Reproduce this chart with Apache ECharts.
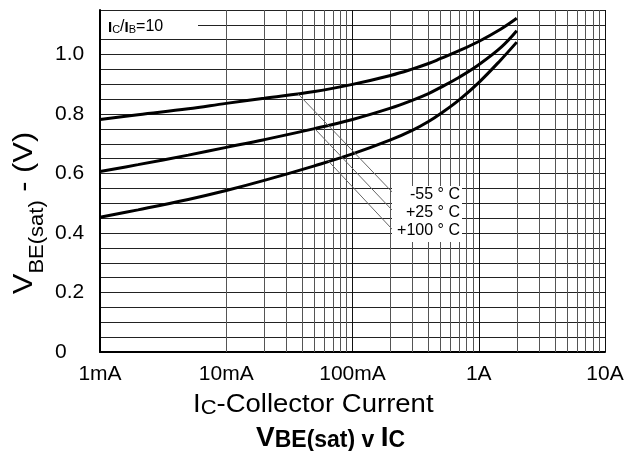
<!DOCTYPE html>
<html>
<head>
<meta charset="utf-8">
<title>VBE(sat) v IC</title>
<script src="https://cdn.jsdelivr.net/npm/echarts@6/dist/echarts.min.js"></script>
<style>
  html, body { margin: 0; padding: 0; background: #fff; }
  #chart { width: 629px; height: 451px; }
</style>
</head>
<body>
<div id="chart"></div>
<script>
    // collector current (A) and VBE(sat) (V)
    var current = [0.001, 0.002, 0.005, 0.01, 0.02, 0.05, 0.1, 0.2, 0.3, 0.4, 0.5, 0.7, 1, 1.5, 2];
    var vMinus55 = [0.782, 0.798, 0.818, 0.836, 0.853, 0.876, 0.900, 0.930, 0.952, 0.970, 0.987, 1.013, 1.044, 1.086, 1.122];
    var vPlus25 = [0.607, 0.630, 0.662, 0.688, 0.714, 0.751, 0.782, 0.820, 0.847, 0.869, 0.890, 0.924, 0.966, 1.024, 1.080];
    var vPlus100 = [0.453, 0.478, 0.513, 0.543, 0.577, 0.626, 0.666, 0.713, 0.746, 0.775, 0.802, 0.848, 0.906, 0.983, 1.042];

    var xTickLabels = ['1mA', '10mA', '100mA', '1A', '10A'];
    var yLabelStep = 0.2;
    var decades = [0.001, 0.01, 0.1, 1];
    var tempLabels = ['-55 ° C', '+25 ° C', '+100 ° C'];

    // leader lines from each curve down to its label
    var leaderFrom = [[0.037, 0.868], [0.0504, 0.75], [0.0638, 0.644]];
    var leaderTo = [[0.217, 0.528], [0.217, 0.467], [0.209, 0.41]];

    var font = '"Liberation Sans", Arial, sans-serif';

    // 2..9 lines inside every decade
    var minorTicks = [];
    decades.forEach(function (d) {
        for (var k = 2; k <= 9; k++) minorTicks.push(d * k);
    });

    function pairs(ys) {
        return current.map(function (c, i) { return [c, ys[i]]; });
    }

    function curve(name, ys) {
        return {
            type: 'line',
            name: name,
            data: pairs(ys),
            smooth: 0.4,
            showSymbol: false,
            z: 3,
            lineStyle: { color: '#000', width: 3 }
        };
    }

    var chart = echarts.init(document.getElementById('chart'));

    chart.setOption({
        animation: false,
        grid: { left: 100, right: 24, top: 10, bottom: 99 },
        xAxis: {
            type: 'log',
            logBase: 10,
            min: 0.001,
            max: 10,
            axisLine: { show: true, onZero: false, lineStyle: { color: '#000', width: 2 } },
            axisTick: { show: false },
            splitLine: { show: true, lineStyle: { color: '#111', width: 1 } },
            axisLabel: {
                color: '#000',
                fontSize: 21,
                fontFamily: font,
                margin: 12,
                formatter: function (v) {
                    return xTickLabels[Math.round(Math.log10(v)) + 3];
                }
            }
        },
        yAxis: {
            type: 'value',
            min: 0,
            max: 1.15,
            interval: 0.05,
            axisLine: { show: true, lineStyle: { color: '#000', width: 2 } },
            axisTick: { show: false },
            splitLine: { show: true, lineStyle: { color: '#222', width: 1 } },
            axisLabel: {
                color: '#000',
                fontSize: 21,
                fontFamily: font,
                align: 'left',
                margin: 45,
                formatter: function (v) {
                    var r = v / yLabelStep;
                    if (Math.abs(r - Math.round(r)) > 1e-6) return '';
                    return v === 0 ? '0' : v.toFixed(1);
                }
            }
        },
        graphic: [
            // Ic/Ib box top-left
            { type: 'rect', shape: { x: 101, y: 11, width: 97, height: 28 }, style: { fill: '#fff' }, z: 10 },
            {
                type: 'text', x: 108, y: 27, z: 11,
                style: {
                    text: '{i|I}{s|C}{n|/}{i|I}{s|B}{n|=10}',
                    verticalAlign: 'middle',
                    rich: {
                        i: { fontSize: 15, fontWeight: 'bold', fontFamily: font, fill: '#000', verticalAlign: 'bottom' },
                        s: { fontSize: 11, fontFamily: font, fill: '#000', verticalAlign: 'bottom' },
                        n: { fontSize: 16, fontFamily: font, fill: '#000', verticalAlign: 'bottom' }
                    }
                }
            },
            // temperature labels
            { type: 'rect', shape: { x: 392, y: 186, width: 70, height: 56 }, style: { fill: '#fff' }, z: 10 },
            { type: 'text', x: 460, y: 195, z: 11, style: { text: tempLabels[0], align: 'right', verticalAlign: 'middle', font: '16px ' + font, fill: '#000' } },
            { type: 'text', x: 460, y: 213, z: 11, style: { text: tempLabels[1], align: 'right', verticalAlign: 'middle', font: '16px ' + font, fill: '#000' } },
            { type: 'text', x: 460, y: 231, z: 11, style: { text: tempLabels[2], align: 'right', verticalAlign: 'middle', font: '16px ' + font, fill: '#000' } },
            // y axis name, subscript pushed down by a tall line box
            {
                type: 'text', x: 10, y: 213, rotation: Math.PI / 2, scaleX: 1.1, z: 11,
                style: {
                    text: '{v|V}{s|BE(sat)}{d| -}{v| (V)}',
                    align: 'center',
                    verticalAlign: 'top',
                    rich: {
                        v: { fontSize: 28, lineHeight: 28, verticalAlign: 'top', fontFamily: font, fill: '#000' },
                        d: { fontSize: 28, lineHeight: 14, verticalAlign: 'top', fontFamily: font, fill: '#000' },
                        s: { fontSize: 20, lineHeight: 54, verticalAlign: 'middle', fontFamily: font, fill: '#000' }
                    }
                }
            },
            // x axis name
            {
                type: 'text', x: 193, y: 418, scaleX: 1.1, z: 11,
                style: {
                    text: '{i|I}{c|C}{n|-Collector Current}',
                    verticalAlign: 'bottom',
                    rich: {
                        i: { fontSize: 25, verticalAlign: 'bottom', fontFamily: font, fill: '#000' },
                        c: { fontSize: 20, verticalAlign: 'bottom', fontFamily: font, fill: '#000' },
                        n: { fontSize: 25, verticalAlign: 'bottom', fontFamily: font, fill: '#000' }
                    }
                }
            },
            // chart title
            {
                type: 'text', x: 256, y: 452, z: 11,
                style: {
                    text: '{b|V}{s|BE(sat) v }{b|I}{s|C}',
                    verticalAlign: 'bottom',
                    rich: {
                        b: { fontSize: 28, fontWeight: 'bold', verticalAlign: 'bottom', fontFamily: font, fill: '#000' },
                        s: { fontSize: 23, fontWeight: 'bold', verticalAlign: 'bottom', fontFamily: font, fill: '#000' }
                    }
                }
            }
        ],
        series: [
            {
                type: 'line',
                name: 'minor grid',
                data: [],
                silent: true,
                markLine: {
                    silent: true,
                    z: 1,
                    symbol: 'none',
                    label: { show: false },
                    animation: false,
                    lineStyle: { type: 'solid', color: '#555', width: 1 },
                    data: minorTicks.map(function (v) { return { xAxis: v }; })
                }
            },
            {
                type: 'line',
                name: 'leaders',
                data: [],
                silent: true,
                markLine: {
                    silent: true,
                    z: 4,
                    symbol: 'none',
                    label: { show: false },
                    animation: false,
                    lineStyle: { type: 'solid', color: '#666', width: 1 },
                    data: leaderFrom.map(function (p, i) {
                        return [{ coord: p }, { coord: leaderTo[i] }];
                    })
                }
            },
            curve('-55 °C', vMinus55),
            curve('+25 °C', vPlus25),
            curve('+100 °C', vPlus100)
        ]
    });
</script>
</body>
</html>
